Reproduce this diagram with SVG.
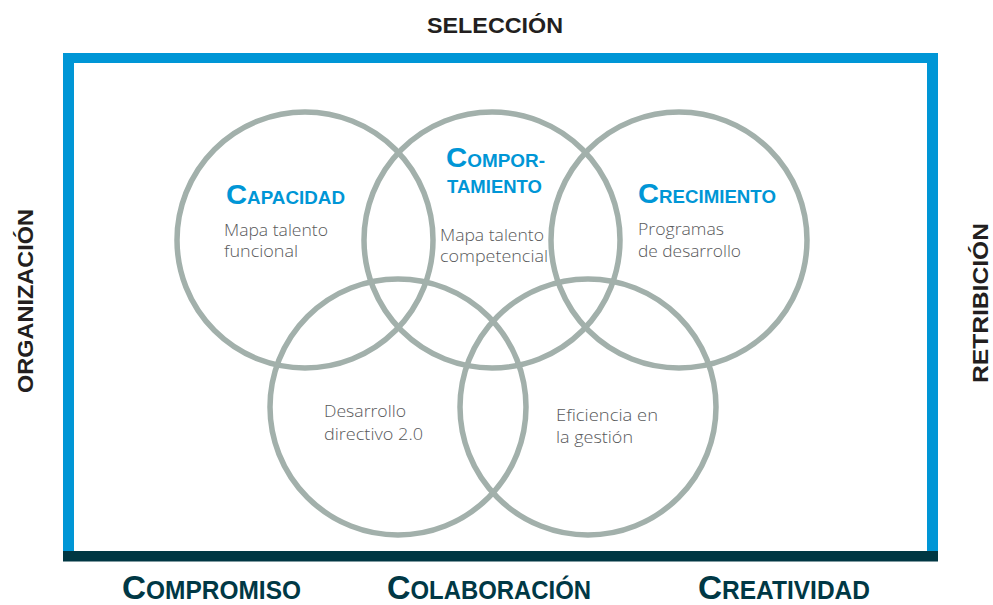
<svg xmlns="http://www.w3.org/2000/svg" width="993" height="605" viewBox="0 0 993 605">
<style>
.ring{fill:none;stroke:#a2b0ab;stroke-width:5.5}
.head{font-family:"Liberation Sans",Arial,sans-serif;font-weight:bold;fill:#0096d6}
.body{font-family:"Open Sans","Liberation Sans",sans-serif;font-weight:300;font-size:17px;fill:#58595b}
.side{font-family:"Liberation Sans",Arial,sans-serif;font-weight:bold;font-size:22px;fill:#231f20}
.foot{font-family:"Liberation Sans",Arial,sans-serif;font-weight:bold;fill:#003845}
</style>
<rect width="993" height="605" fill="#ffffff"/>
<g id="frame">
<rect x="63" y="53" width="875" height="10" fill="#0096d6"/>
<rect x="63" y="53" width="11" height="500" fill="#0096d6"/>
<rect x="927" y="53" width="11" height="500" fill="#0096d6"/>
<rect x="63" y="551" width="875" height="10.5" fill="#003743"/>
</g>
<g id="circles">
<g id="capacidad">
<circle class="ring" cx="305" cy="240" r="128"/>
<text class="head" x="226" y="204" textLength="119" lengthAdjust="spacingAndGlyphs"><tspan font-size="28">C</tspan><tspan font-size="18">APACIDAD</tspan></text>
<text class="body" x="224" y="236" textLength="104" lengthAdjust="spacingAndGlyphs">Mapa talento</text>
<text class="body" x="224" y="257" textLength="74" lengthAdjust="spacingAndGlyphs">funcional</text>
</g>
<g id="comportamiento">
<circle class="ring" cx="492" cy="240" r="128"/>
<text class="head" x="446" y="166.5" textLength="99" lengthAdjust="spacingAndGlyphs"><tspan font-size="28">C</tspan><tspan font-size="18">OMPOR-</tspan></text>
<text class="head" x="447" y="193" font-size="18" textLength="95" lengthAdjust="spacingAndGlyphs">TAMIENTO</text>
<text class="body" x="440" y="241" font-size="16" textLength="104" lengthAdjust="spacingAndGlyphs">Mapa talento</text>
<text class="body" x="440" y="262" font-size="16" textLength="108" lengthAdjust="spacingAndGlyphs">competencial</text>
</g>
<g id="crecimiento">
<circle class="ring" cx="679" cy="240" r="128"/>
<text class="head" x="638" y="203" textLength="138" lengthAdjust="spacingAndGlyphs"><tspan font-size="28">C</tspan><tspan font-size="18">RECIMIENTO</tspan></text>
<text class="body" x="638" y="235" textLength="86" lengthAdjust="spacingAndGlyphs">Programas</text>
<text class="body" x="638" y="257" textLength="103" lengthAdjust="spacingAndGlyphs">de desarrollo</text>
</g>
<g id="desarrollo">
<circle class="ring" cx="398" cy="407" r="128"/>
<text class="body" x="324" y="417" textLength="82" lengthAdjust="spacingAndGlyphs">Desarrollo</text>
<text class="body" x="324" y="440" textLength="99" lengthAdjust="spacingAndGlyphs">directivo 2.0</text>
</g>
<g id="eficiencia">
<circle class="ring" cx="588" cy="407" r="128"/>
<text class="body" x="556" y="421" textLength="102" lengthAdjust="spacingAndGlyphs">Eficiencia en</text>
<text class="body" x="556" y="443" textLength="77" lengthAdjust="spacingAndGlyphs">la gestión</text>
</g>
</g>
<g id="labels">
<text id="seleccion" class="side" x="427" y="33" textLength="136" lengthAdjust="spacingAndGlyphs">SELECCIÓN</text>
<text id="organizacion" class="side" transform="translate(33,301) rotate(-90)" text-anchor="middle" textLength="184" lengthAdjust="spacingAndGlyphs">ORGANIZACIÓN</text>
<text id="retribicion" class="side" transform="translate(988,303) rotate(-90)" text-anchor="middle" textLength="160" lengthAdjust="spacingAndGlyphs">RETRIBICIÓN</text>
<text id="compromiso" class="foot" x="122" y="599" textLength="179" lengthAdjust="spacingAndGlyphs"><tspan font-size="34">C</tspan><tspan font-size="25">OMPROMISO</tspan></text>
<text id="colaboracion" class="foot" x="387" y="599" textLength="204" lengthAdjust="spacingAndGlyphs"><tspan font-size="34">C</tspan><tspan font-size="25">OLABORACIÓN</tspan></text>
<text id="creatividad" class="foot" x="698" y="599" textLength="172" lengthAdjust="spacingAndGlyphs"><tspan font-size="34">C</tspan><tspan font-size="25">REATIVIDAD</tspan></text>
</g>
</svg>
